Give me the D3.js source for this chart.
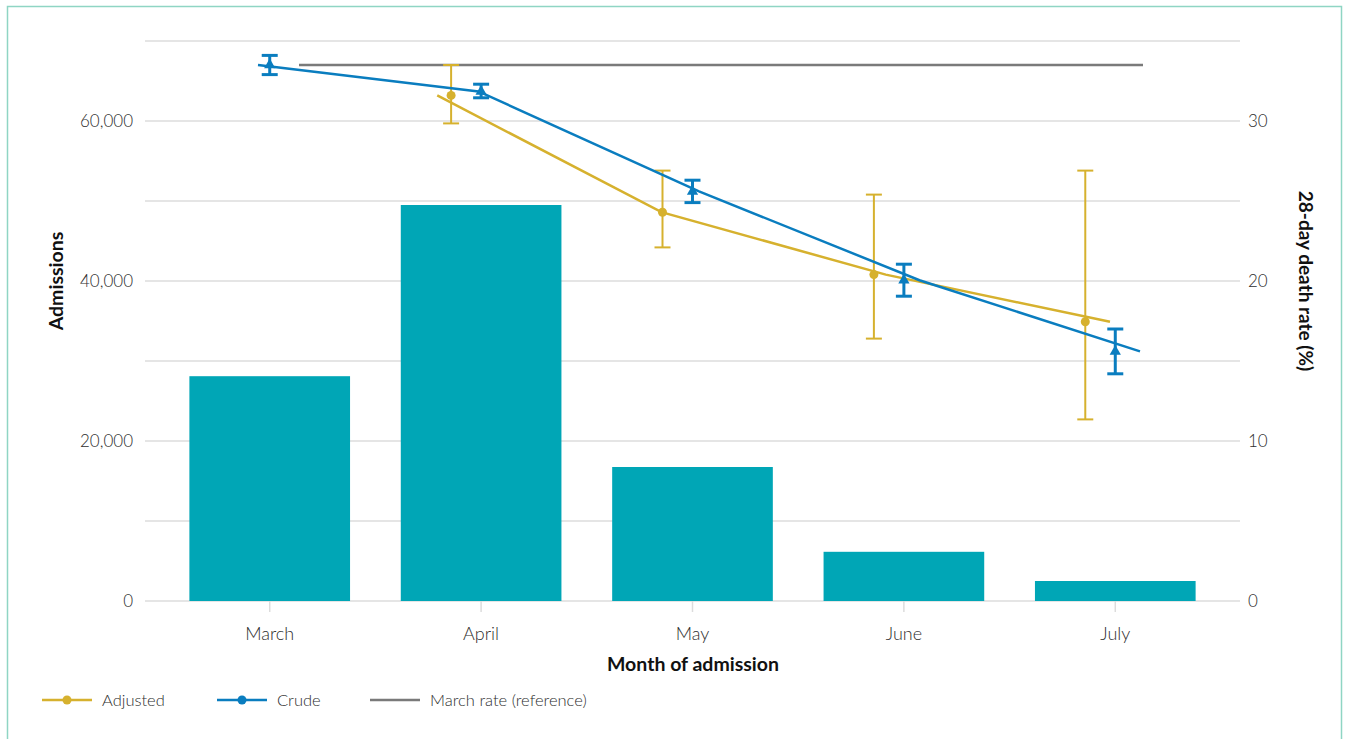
<!DOCTYPE html>
<html>
<head>
<meta charset="utf-8">
<script src="https://cdn.jsdelivr.net/npm/d3@7"></script>
<style>
  body { margin: 0; background: #fff; font-family: Lato, "Open Sans", sans-serif; }
  #chart { width: 1349px; height: 739px; }
</style>
</head>
<body>
<div id="chart"></div>
<script>
// months on the x axis
const months = ["March", "April", "May", "June", "July"];
// bars: admissions per month
const admissions = [28100, 49500, 16750, 6150, 2500];
// crude 28-day death rate (%) with 95% CI
const crudeRate = [33.5, 31.85, 25.6, 20.05, 15.6];
const crudeLow = [32.9, 31.45, 24.9, 19.05, 14.2];
const crudeHigh = [34.1, 32.3, 26.3, 21.05, 17.0];
// adjusted rate (%) with 95% CI, no value for March
const adjustedRate = [null, 31.6, 24.3, 20.4, 17.45];
const adjustedLow = [null, 29.85, 22.1, 16.4, 11.35];
const adjustedHigh = [null, 33.5, 26.9, 25.4, 26.9];
// March reference rate
const marchRate = 33.5;

const leftTicks = [0, 20000, 40000, 60000];
const rightTicks = [0, 10, 20, 30];

function drawChart(id) {
  const w = 1349;
  const h = 739;
  const left = 145;
  const right = 1240;
  const top = 41;
  const bottom = 601;

  const colBar = "#00a6b6";
  const colCrude = "#0a7dbf";
  const colAdj = "#d6b12e";
  const colRef = "#7a7a7a";
  const colGrid = "#dcdcdc";
  const colText = "#2e2e2e";

  const svg = d3
    .select(`#${id}`)
    .append("svg")
    .attr("width", w)
    .attr("height", h)
    .attr("viewBox", [0, 0, w, h]);

  // frame
  svg
    .append("rect")
    .attr("x", 7.5)
    .attr("y", 6.5)
    .attr("width", 1334)
    .attr("height", 760)
    .attr("fill", "none")
    .attr("stroke", "#8fd5c4")
    .attr("stroke-width", 1.5);

  const x = d3
    .scaleBand()
    .domain(months)
    .range([left, right])
    .paddingInner(0.24)
    .paddingOuter(0.21);
  const xc = (m) => x(m) + x.bandwidth() / 2;

  const yLeft = d3.scaleLinear().domain([0, 70000]).range([bottom, top]);
  const yRight = d3.scaleLinear().domain([0, 35]).range([bottom, top]);

  // line scales (lines are drawn slightly shifted from markers, as in the source)
  const xCrudeLine = d3.scalePoint().domain(months).range([258, 1140]);
  const xAdjLine = d3.scalePoint().domain(months).range([213, 1110]);
  const xRefLine = d3.scalePoint().domain(["start", "end"]).range([299, 1143]);
  const adjOffset = -30;

  // gridlines
  svg
    .append("g")
    .selectAll("line")
    .data(d3.range(0, 70001, 10000))
    .enter()
    .append("line")
    .attr("x1", left)
    .attr("x2", right)
    .attr("y1", (d) => yLeft(d))
    .attr("y2", (d) => yLeft(d))
    .attr("stroke", colGrid)
    .attr("stroke-width", 1.5);

  // left axis labels
  svg
    .append("g")
    .selectAll("text")
    .data(leftTicks)
    .enter()
    .append("text")
    .attr("x", 133)
    .attr("y", (d) => yLeft(d))
    .attr("dy", "0.35em")
    .attr("text-anchor", "end")
    .attr("font-size", 17)
    .attr("font-weight", 300)
    .attr("fill", colText)
    .text((d) => d3.format(",")(d));

  // right axis labels
  svg
    .append("g")
    .selectAll("text")
    .data(rightTicks)
    .enter()
    .append("text")
    .attr("x", 1248)
    .attr("y", (d) => yRight(d))
    .attr("dy", "0.35em")
    .attr("text-anchor", "start")
    .attr("font-size", 17)
    .attr("font-weight", 300)
    .attr("fill", colText)
    .text((d) => d);

  // bars
  svg
    .append("g")
    .selectAll("rect")
    .data(months)
    .enter()
    .append("rect")
    .attr("x", (d) => x(d))
    .attr("y", (d, i) => yLeft(admissions[i]))
    .attr("width", x.bandwidth())
    .attr("height", (d, i) => bottom - yLeft(admissions[i]))
    .attr("fill", colBar);

  // x ticks + labels
  const xg = svg.append("g");
  xg.selectAll("line")
    .data(months)
    .enter()
    .append("line")
    .attr("x1", xc)
    .attr("x2", xc)
    .attr("y1", bottom)
    .attr("y2", bottom + 11)
    .attr("stroke", colGrid)
    .attr("stroke-width", 1.5);
  xg.selectAll("text")
    .data(months)
    .enter()
    .append("text")
    .attr("x", xc)
    .attr("y", 640)
    .attr("text-anchor", "middle")
    .attr("font-size", 18)
    .attr("font-weight", 300)
    .attr("fill", colText)
    .text((d) => d);

  // axis titles
  svg
    .append("text")
    .attr("x", 693)
    .attr("y", 671)
    .attr("text-anchor", "middle")
    .attr("font-size", 19.5)
    .attr("font-weight", 700)
    .attr("fill", "#111")
    .text("Month of admission");
  svg
    .append("text")
    .attr("transform", "translate(63,281) rotate(-90)")
    .attr("text-anchor", "middle")
    .attr("font-size", 19.5)
    .attr("font-weight", 700)
    .attr("fill", "#111")
    .text("Admissions");
  svg
    .append("text")
    .attr("transform", "translate(1299,281) rotate(90)")
    .attr("text-anchor", "middle")
    .attr("font-size", 19)
    .attr("font-weight", 700)
    .attr("fill", "#111")
    .text("28-day death rate (%)");

  // reference line
  svg
    .append("line")
    .attr("x1", xRefLine("start"))
    .attr("x2", xRefLine("end"))
    .attr("y1", yRight(marchRate))
    .attr("y2", yRight(marchRate))
    .attr("stroke", colRef)
    .attr("stroke-width", 2.5);

  // adjusted series
  const adjIdx = d3.range(months.length).filter((i) => adjustedRate[i] != null);
  const adjLine = d3
    .line()
    .x((i) => xAdjLine(months[i]))
    .y((i) => yRight(adjustedRate[i]));
  svg
    .append("path")
    .attr("d", adjLine(adjIdx))
    .attr("fill", "none")
    .attr("stroke", colAdj)
    .attr("stroke-width", 2.5);

  const adjG = svg.append("g").attr("stroke", colAdj).attr("stroke-width", 2);
  adjIdx.forEach((i) => {
    const cx = xc(months[i]) + adjOffset;
    adjG.append("line")
      .attr("x1", cx).attr("x2", cx)
      .attr("y1", yRight(adjustedLow[i])).attr("y2", yRight(adjustedHigh[i]));
    [adjustedLow[i], adjustedHigh[i]].forEach((v) => {
      adjG.append("line")
        .attr("x1", cx - 8).attr("x2", cx + 8)
        .attr("y1", yRight(v)).attr("y2", yRight(v));
    });
    adjG.append("circle")
      .attr("cx", cx)
      .attr("cy", yRight(adjustedRate[i]))
      .attr("r", 4.5)
      .attr("fill", colAdj)
      .attr("stroke", "none");
  });

  // crude series
  const crudeLine = d3
    .line()
    .x((d, i) => xCrudeLine(months[i]))
    .y((d) => yRight(d));
  svg
    .append("path")
    .attr("d", crudeLine(crudeRate))
    .attr("fill", "none")
    .attr("stroke", colCrude)
    .attr("stroke-width", 2.5);

  const crG = svg.append("g").attr("stroke", colCrude).attr("stroke-width", 3);
  const tri = d3.symbol().type(d3.symbolTriangle).size(55);
  months.forEach((m, i) => {
    const cx = xc(m);
    crG.append("line")
      .attr("x1", cx).attr("x2", cx)
      .attr("y1", yRight(crudeLow[i])).attr("y2", yRight(crudeHigh[i]));
    [crudeLow[i], crudeHigh[i]].forEach((v) => {
      crG.append("line")
        .attr("x1", cx - 8).attr("x2", cx + 8)
        .attr("y1", yRight(v)).attr("y2", yRight(v));
    });
    crG.append("path")
      .attr("d", tri())
      .attr("transform", `translate(${cx},${yRight(crudeRate[i])})`)
      .attr("fill", colCrude)
      .attr("stroke", "none");
  });

  // legend
  const legendItems = [
    { label: "Adjusted", color: colAdj, dot: true, x: 42 },
    { label: "Crude", color: colCrude, dot: true, x: 217 },
    { label: "March rate (reference)", color: colRef, dot: false, x: 370 },
  ];
  const lg = svg.append("g").attr("transform", "translate(0,700)");
  legendItems.forEach((d) => {
    lg.append("line")
      .attr("x1", d.x).attr("x2", d.x + 50)
      .attr("y1", 0).attr("y2", 0)
      .attr("stroke", d.color)
      .attr("stroke-width", 2.5);
    if (d.dot) {
      lg.append("circle")
        .attr("cx", d.x + 25).attr("cy", 0).attr("r", 4.5)
        .attr("fill", d.color);
    }
    lg.append("text")
      .attr("x", d.x + 60)
      .attr("y", 0)
      .attr("dy", "0.35em")
      .attr("font-size", 16.5)
      .attr("font-weight", 300)
      .attr("fill", colText)
      .text(d.label);
  });
}

document.addEventListener("DOMContentLoaded", function () {
  drawChart("chart");
});
</script>
</body>
</html>
